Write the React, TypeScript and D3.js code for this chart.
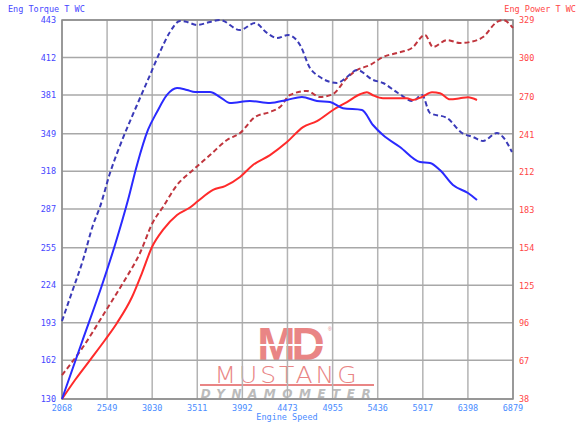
import React from "react";
import * as d3 from "d3";

const xTicks = [2068, 2549, 3030, 3511, 3992, 4473, 4955, 5436, 5917, 6398, 6879];
const leftTicks = [130, 162, 193, 224, 255, 287, 318, 349, 381, 412, 443];
const rightTicks = [38, 67, 96, 125, 154, 183, 212, 241, 270, 300, 329];

const torqueRpm = [2068, 2281, 2495, 2633, 2772, 2868, 2985, 3081, 3188, 3295, 3401, 3487, 3647, 3753, 3860, 4073, 4287, 4468, 4628, 4788, 4927, 5065, 5268, 5385, 5492, 5673, 5887, 5993, 6100, 6239, 6399, 6495];
const torque = [130, 177.1, 224.1, 257.2, 294.3, 323.3, 352.2, 367.0, 381.1, 386.8, 385.2, 383.5, 383.5, 379.4, 374.5, 376.1, 374.5, 377.0, 379.5, 376.1, 375.3, 370.2, 368.7, 356.3, 348.0, 338.1, 325.7, 324.9, 319.1, 306.7, 300.1, 294.3];

const torqueRefRpm = [2068, 2175, 2292, 2399, 2473, 2580, 2719, 2868, 3007, 3113, 3220, 3327, 3401, 3508, 3647, 3753, 3967, 4127, 4255, 4362, 4479, 4607, 4713, 4820, 5001, 5108, 5215, 5385, 5492, 5652, 5812, 5908, 5993, 6175, 6335, 6452, 6559, 6708, 6772, 6868];
const torqueRef = [194.4, 218.4, 244.8, 273.7, 288.6, 316.6, 345.6, 372.8, 397.6, 416.6, 433.1, 442.2, 441.4, 438.9, 441.4, 443.0, 434.7, 440.5, 432.3, 428.1, 430.6, 422.4, 403.4, 395.9, 391.0, 395.9, 401.7, 393.5, 391.0, 382.7, 376.1, 381.1, 366.2, 362.1, 349.7, 346.4, 343.1, 349.7, 346.4, 334.0];

const powerRpm = [2068, 2207, 2367, 2527, 2655, 2815, 2921, 3028, 3145, 3295, 3433, 3519, 3679, 3807, 3967, 4105, 4287, 4468, 4639, 4788, 4959, 5108, 5247, 5321, 5385, 5492, 5748, 5812, 5908, 6015, 6100, 6207, 6313, 6399, 6495];
const power = [38, 52.6, 67.9, 83.3, 96.4, 116.3, 134.7, 154.7, 167.8, 179.3, 185.0, 190.0, 198.5, 201.5, 208.5, 217.7, 225.3, 235.3, 246.8, 251.4, 259.9, 266.0, 272.0, 273.5, 271.2, 268.9, 268.9, 267.6, 269.9, 273.5, 272.8, 268.1, 268.9, 269.7, 267.6];

const powerRefRpm = [2068, 2292, 2527, 2719, 2900, 3039, 3145, 3295, 3465, 3647, 3828, 3967, 4127, 4287, 4394, 4500, 4681, 4820, 4959, 5108, 5215, 5353, 5492, 5641, 5801, 5940, 6025, 6175, 6313, 6420, 6559, 6708, 6772, 6879];
const powerRef = [56.4, 77.9, 104.8, 127.1, 150.1, 173.9, 185.4, 202.3, 213.8, 225.3, 236.9, 242.2, 254.5, 258.4, 262.2, 271.4, 274.5, 269.9, 272.2, 284.5, 290.6, 294.4, 300.6, 303.7, 307.5, 317.5, 308.3, 313.6, 311.3, 312.1, 315.9, 327.5, 329.0, 322.9];

const W = 583, H = 431;
const L = 62, R = 513, T = 20, B = 399;
const FONT = "'DejaVu Sans Mono', monospace";

export default function App() {
  const x = d3.scaleLinear().domain([2068, 6879]).range([L, R]);
  const yL = d3.scaleLinear().domain([130, 443]).range([B, T]);
  const yR = d3.scaleLinear().domain([38, 329]).range([B, T]);

  const mk = (xs: number[], ys: number[], ys2: d3.ScaleLinear<number, number>) =>
    d3.line<number>().x((_, i) => x(xs[i])).y((v) => ys2(v)).curve(d3.curveMonotoneX)(ys) || "";

  return (
    <svg width={W} height={H} style={{ position: "absolute", left: 0, top: 0, background: "#fff" }}>
      <rect x={0} y={0} width={W} height={H} fill="#fff" />
      {/* logo */}
      <g>
        <text x={289} y={360} textAnchor="middle" fontFamily="'Liberation Sans', Arial, sans-serif" fontWeight={900} fontSize={46} fill="#e98585" letterSpacing={-4}>MD</text>
        <line x1={254} x2={326} y1={345} y2={345} stroke="#fff" strokeWidth={2} />
        <text x={328} y={331} fontSize={5} fill="#e98585" fontFamily="sans-serif">®</text>
        <text x={287} y={383} textAnchor="middle" fontFamily="'DejaVu Sans', sans-serif" fontWeight={300} fontSize={25} fill="#e98585" letterSpacing={3} transform="translate(287,383) scale(1,0.92) translate(-287,-383)">MUSTANG</text>
        <rect x={200} y={384} width={174} height={2} fill="#e98585" />
        <text x={289} y={398} textAnchor="middle" fontFamily="'DejaVu Sans', sans-serif" fontStyle="italic" fontWeight="bold" fontSize={12} fill="#bbb" letterSpacing={6.5}>DYNAMOMETER</text>
      </g>
      {/* grid */}
      {xTicks.map((t) => (
        <line key={"gx" + t} x1={x(t)} x2={x(t)} y1={T} y2={B} stroke="#b3b3b3" strokeWidth={1.5} />
      ))}
      {leftTicks.map((t) => (
        <line key={"gy" + t} x1={L} x2={R} y1={yL(t)} y2={yL(t)} stroke="#a8a8a8" strokeWidth={1.5} />
      ))}
      <rect x={L} y={T} width={R - L} height={B - T} fill="none" stroke="#8a8a8a" strokeWidth={1.5} />
      {/* lines */}
      <path d={mk(powerRefRpm, powerRef, yR)} fill="none" stroke="#c0353d" strokeWidth={2} strokeDasharray="5,3" />
      <path d={mk(torqueRefRpm, torqueRef, yL)} fill="none" stroke="#3a3ab8" strokeWidth={2} strokeDasharray="5,3" />
      <path d={mk(powerRpm, power, yR)} fill="none" stroke="#ff2a2a" strokeWidth={2} />
      <path d={mk(torqueRpm, torque, yL)} fill="none" stroke="#2a2aff" strokeWidth={2} />
      {/* axis labels */}
      {leftTicks.map((t) => (
        <text key={"lt" + t} x={56} y={yL(t) + 3} textAnchor="end" fontFamily={FONT} fontSize={8.5} fill="#4646ff">{t}</text>
      ))}
      {rightTicks.map((t) => (
        <text key={"rt" + t} x={519} y={yR(t) + 3} textAnchor="start" fontFamily={FONT} fontSize={8.5} fill="#ff4646">{t}</text>
      ))}
      {xTicks.map((t) => (
        <text key={"xt" + t} x={x(t)} y={411} textAnchor="middle" fontFamily={FONT} fontSize={8.5} fill="#4a8cff">{t}</text>
      ))}
      <text x={287} y={420} textAnchor="middle" fontFamily={FONT} fontSize={8.5} fill="#4a8cff">Engine Speed</text>
      <text x={8} y={12} fontFamily={FONT} fontSize={8.5} fill="#4646ff">Eng Torque T WC</text>
      <text x={576} y={12} textAnchor="end" fontFamily={FONT} fontSize={8.5} fill="#ff4646">Eng Power T WC</text>
    </svg>
  );
}
